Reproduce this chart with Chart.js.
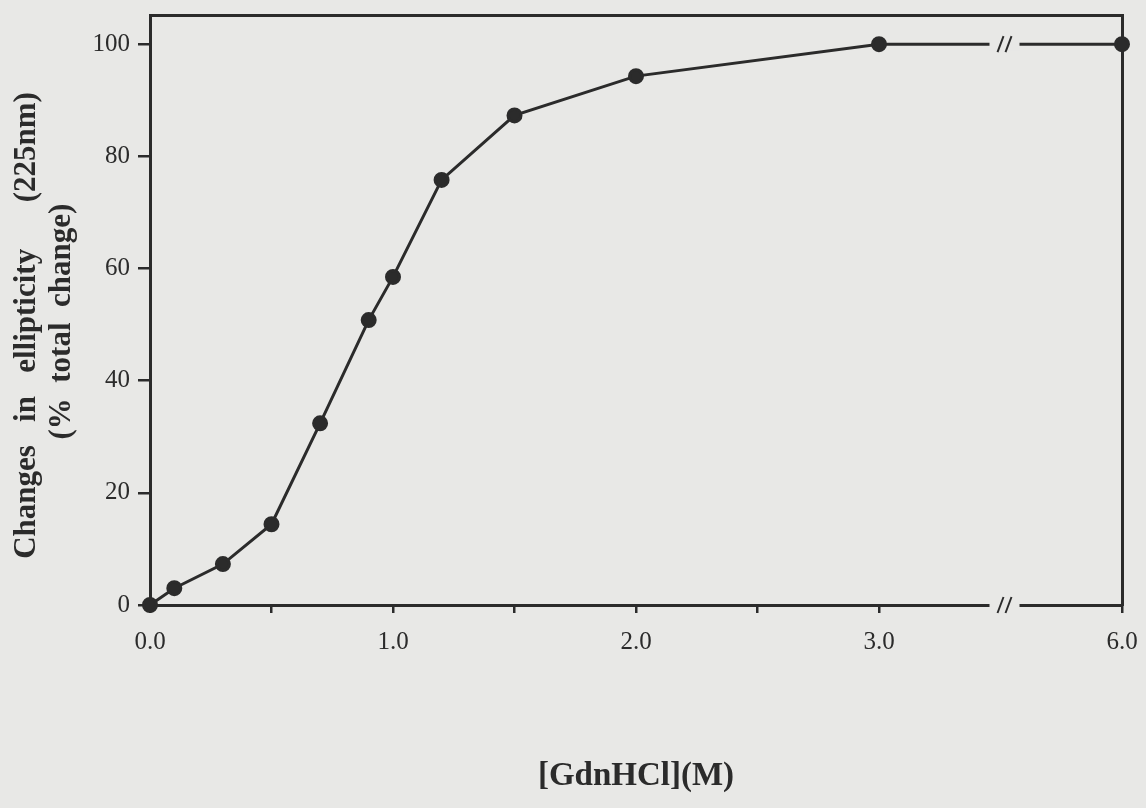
<!DOCTYPE html>
<html>
<head>
<meta charset="utf-8">
<script src="https://cdn.jsdelivr.net/npm/chart.js@4/dist/chart.umd.min.js"></script>
<style>
  html, body { margin: 0; padding: 0; background: #e8e8e6; }
  #wrap { width: 1146px; height: 808px; }
</style>
</head>
<body>
<div id="wrap"><canvas id="gdnChart"></canvas></div>
<script>
// GdnHCl concentration (M) and % of total ellipticity change at 225 nm
const gdnhcl = [0.0, 0.1, 0.3, 0.5, 0.7, 0.9, 1.0, 1.2, 1.5, 2.0, 3.0, 6.0];
const ellipticityChange = [0, 3, 7.3, 14.4, 32.4, 50.8, 58.5, 75.8, 87.3, 94.3, 100, 100];
const xLabelTicks = [0.0, 1.0, 2.0, 3.0, 6.0];
const xMinorTicks = [0.5, 1.5, 2.5];
const yTicks = [0, 20, 40, 60, 80, 100];

// the x axis is broken between 3.0 and 6.0 M
const BREAK_FROM = 3.0, BREAK_TO = 6.0;
const toAxis = v => v <= BREAK_FROM ? v : BREAK_FROM + (v - BREAK_FROM) / (BREAK_TO - BREAK_FROM);

const BG = '#e8e8e6';
const INK = '#2b2b2b';
const SERIF = "'Liberation Serif', 'DejaVu Serif', serif";

const axisBreak = {
  id: 'axisBreak',
  beforeDraw(chart) {
    const { ctx } = chart;
    ctx.save();
    ctx.fillStyle = BG;
    ctx.fillRect(0, 0, chart.width, chart.height);
    ctx.restore();
  },
  afterDraw(chart) {
    const { ctx, scales } = chart;
    const bx = scales.x.getPixelForValue(toAxis((BREAK_FROM + BREAK_TO) / 2)) + 4;
    const rows = [scales.y.getPixelForValue(ellipticityChange[ellipticityChange.length - 1]), scales.y.getPixelForValue(0)];
    ctx.save();
    rows.forEach(by => {
      ctx.fillStyle = BG;
      ctx.fillRect(bx - 15, by - 6, 30, 12);
      ctx.strokeStyle = INK;
      ctx.lineWidth = 2;
      [-4, 4].forEach(dx => {
        ctx.beginPath();
        ctx.moveTo(bx + dx - 3, by + 8);
        ctx.lineTo(bx + dx + 3, by - 8);
        ctx.stroke();
      });
    });
    ctx.restore();
  }
};

new Chart(document.getElementById('gdnChart'), {
  type: 'line',
  data: {
    datasets: [{
      data: gdnhcl.map((g, i) => ({ x: toAxis(g), y: ellipticityChange[i] })),
      borderColor: INK,
      backgroundColor: INK,
      borderWidth: 3,
      pointRadius: 6.5,
      pointHoverRadius: 6.5,
      tension: 0,
      clip: false
    }]
  },
  options: {
    responsive: true,
    maintainAspectRatio: false,
    animation: false,
    layout: { padding: { top: 15, right: 24, left: 0, bottom: 0 } },
    plugins: { legend: { display: false }, tooltip: { enabled: false } },
    scales: {
      x: {
        type: 'linear',
        min: 0,
        max: toAxis(BREAK_TO),
        afterBuildTicks: s => {
          s.ticks = [...xLabelTicks, ...xMinorTicks].map(toAxis).sort((a, b) => a - b).map(v => ({ value: v }));
        },
        afterFit: s => { s.height = 203; s.paddingLeft = 0; s.paddingRight = 0; },
        ticks: {
          autoSkip: false,
          maxRotation: 0,
          padding: 14,
          color: INK,
          font: { family: SERIF, size: 25 },
          callback: v => {
            const lab = xLabelTicks.find(t => Math.abs(toAxis(t) - v) < 1e-9);
            return lab === undefined ? '' : lab.toFixed(1);
          }
        },
        grid: { drawOnChartArea: false, color: INK, lineWidth: 2.5, tickLength: 8 },
        border: { color: INK, width: 3 },
        title: {
          display: true,
          text: '[GdnHCl](M)',
          color: INK,
          font: { family: SERIF, size: 33, weight: 'bold' },
          padding: { top: 0, bottom: 12 }
        }
      },
      y: {
        min: 0,
        max: 105.2,
        afterBuildTicks: s => { s.ticks = yTicks.map(v => ({ value: v })); },
        afterFit: s => { s.width = 150; s.paddingTop = 0; s.paddingBottom = 0; },
        ticks: {
          padding: 8,
          color: INK,
          font: { family: SERIF, size: 25 }
        },
        grid: { drawOnChartArea: false, color: INK, lineWidth: 2.5, tickLength: 12 },
        border: { color: INK, width: 3 },
        title: {
          display: true,
          // trailing spaces nudge the rotated text down to sit like the original
          text: ['Changes   in   ellipticity      (225nm)    ', '(%  total  change)   '],
          color: INK,
          font: { family: SERIF, size: 31, weight: 'bold', lineHeight: 1.13 },
          padding: { top: 9, bottom: 0 }
        }
      },
      xTop: {
        type: 'linear', position: 'top', min: 0, max: toAxis(BREAK_TO),
        afterFit: s => { s.height = 0; s.paddingLeft = 0; s.paddingRight = 0; },
        ticks: { display: false },
        grid: { drawOnChartArea: false, drawTicks: false },
        border: { color: INK, width: 3 }
      },
      yRight: {
        position: 'right', min: 0, max: 105.2,
        afterFit: s => { s.width = 0; s.paddingTop = 0; s.paddingBottom = 0; },
        ticks: { display: false },
        grid: { drawOnChartArea: false, drawTicks: false },
        border: { color: INK, width: 3 }
      }
    }
  },
  plugins: [axisBreak]
});
</script>
</body>
</html>
